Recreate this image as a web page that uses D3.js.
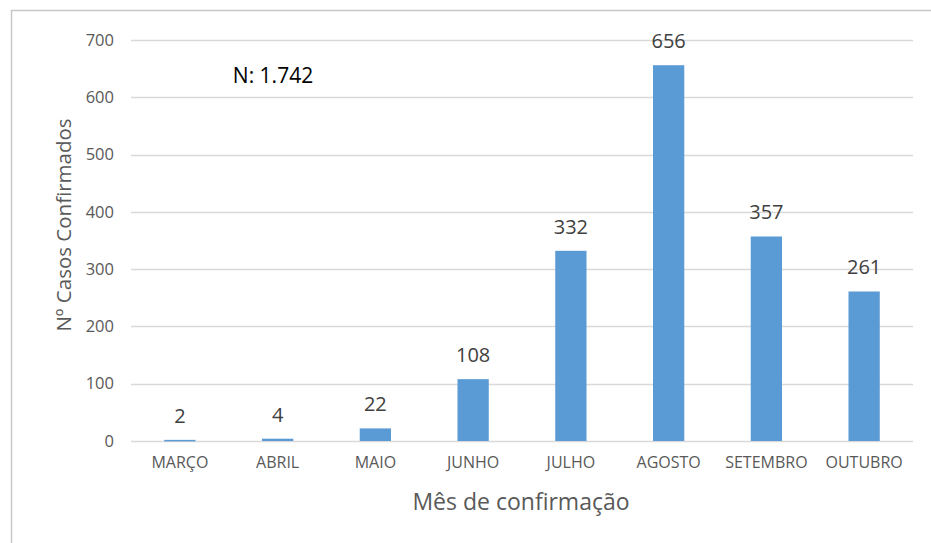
<html>
<head>
  <meta charset="utf-8" />
  <title>casos confirmados por mes</title>
  <script src="https://d3js.org/d3.v7.min.js"></script>
</head>
<style>
  body { margin: 0; background: #fff; }
  svg { display: block; font-family: "Open Sans", sans-serif; }
</style>
<body>
<svg class="main" width="931" height="543"></svg>
<script>

var months = ["MARÇO", "ABRIL", "MAIO", "JUNHO", "JULHO", "AGOSTO", "SETEMBRO", "OUTUBRO"]
var cases = [2, 4, 22, 108, 332, 656, 357, 261]
var yTicks = [0, 100, 200, 300, 400, 500, 600, 700]

var svg = d3.select("svg.main")

// frame (only top and left edge show)
svg.append("path")
  .attr("d", "M11.5,543 V10.5 H931")
  .style("fill", "none")
  .style("stroke", "#c8c8c8")
  .style("stroke-width", 1.5)

var x = d3.scaleBand().domain(months).range([131, 913]).paddingInner(0.68).paddingOuter(0.34)
var y = d3.scaleLinear().domain([0, 700]).range([441, 40])

svg.append("g")
  .selectAll("line")
  .data(yTicks)
  .enter()
  .append("line")
  .attr("x1", 131).attr("x2", 913)
  .attr("y1", function (d) {return Math.round(y(d)) + 0.5})
  .attr("y2", function (d) {return Math.round(y(d)) + 0.5})
  .style("stroke", "#d9d9d9")
  .style("stroke-width", 1.3)

var yAxis = svg.append("g")
  .attr("transform", "translate(131,0)")
  .call(d3.axisLeft(y).tickValues(yTicks).tickSize(0).tickPadding(17))
yAxis.select(".domain").remove()
yAxis.selectAll("text")
  .style("font-family", "'Open Sans', sans-serif")
  .style("font-size", "16.5px")
  .style("fill", "#595959")

var xAxis = svg.append("g")
  .attr("transform", "translate(0,441)")
  .call(d3.axisBottom(x).tickSize(0).tickPadding(16))
xAxis.select(".domain").remove()
xAxis.selectAll("text")
  .style("font-family", "'Open Sans', sans-serif")
  .style("font-size", "16px")
  .style("fill", "#595959")

svg.append("g")
  .selectAll("rect")
  .data(cases)
  .enter()
  .append("rect")
  .attr("x", function (d, i) {return x(months[i])})
  .attr("width", x.bandwidth())
  .attr("y", function (d) {return y(d)})
  .attr("height", function (d) {return Math.max(1.5, y(0) - y(d))})
  .style("fill", "#5b9bd5")

svg.append("g")
  .selectAll("text")
  .data(cases)
  .enter()
  .append("text")
  .attr("x", function (d, i) {return x(months[i]) + x.bandwidth() / 2})
  .attr("y", function (d) {return y(d) - 17})
  .attr("text-anchor", "middle")
  .style("font-size", "20px")
  .style("fill", "#404040")
  .text(function (d) {return d})

svg.append("text")
  .attr("x", 273).attr("y", 83)
  .attr("text-anchor", "middle")
  .style("font-size", "21px")
  .style("fill", "#000")
  .text("N: 1.742")

svg.append("text")
  .attr("transform", "translate(71,225) rotate(-90)")
  .attr("text-anchor", "middle")
  .style("font-size", "20.5px")
  .style("fill", "#595959")
  .text("Nº Casos Confirmados")

svg.append("text")
  .attr("x", 521).attr("y", 510)
  .attr("text-anchor", "middle")
  .style("font-size", "23px")
  .style("fill", "#595959")
  .text("Mês de confirmação")

</script>
</body>
</html>
